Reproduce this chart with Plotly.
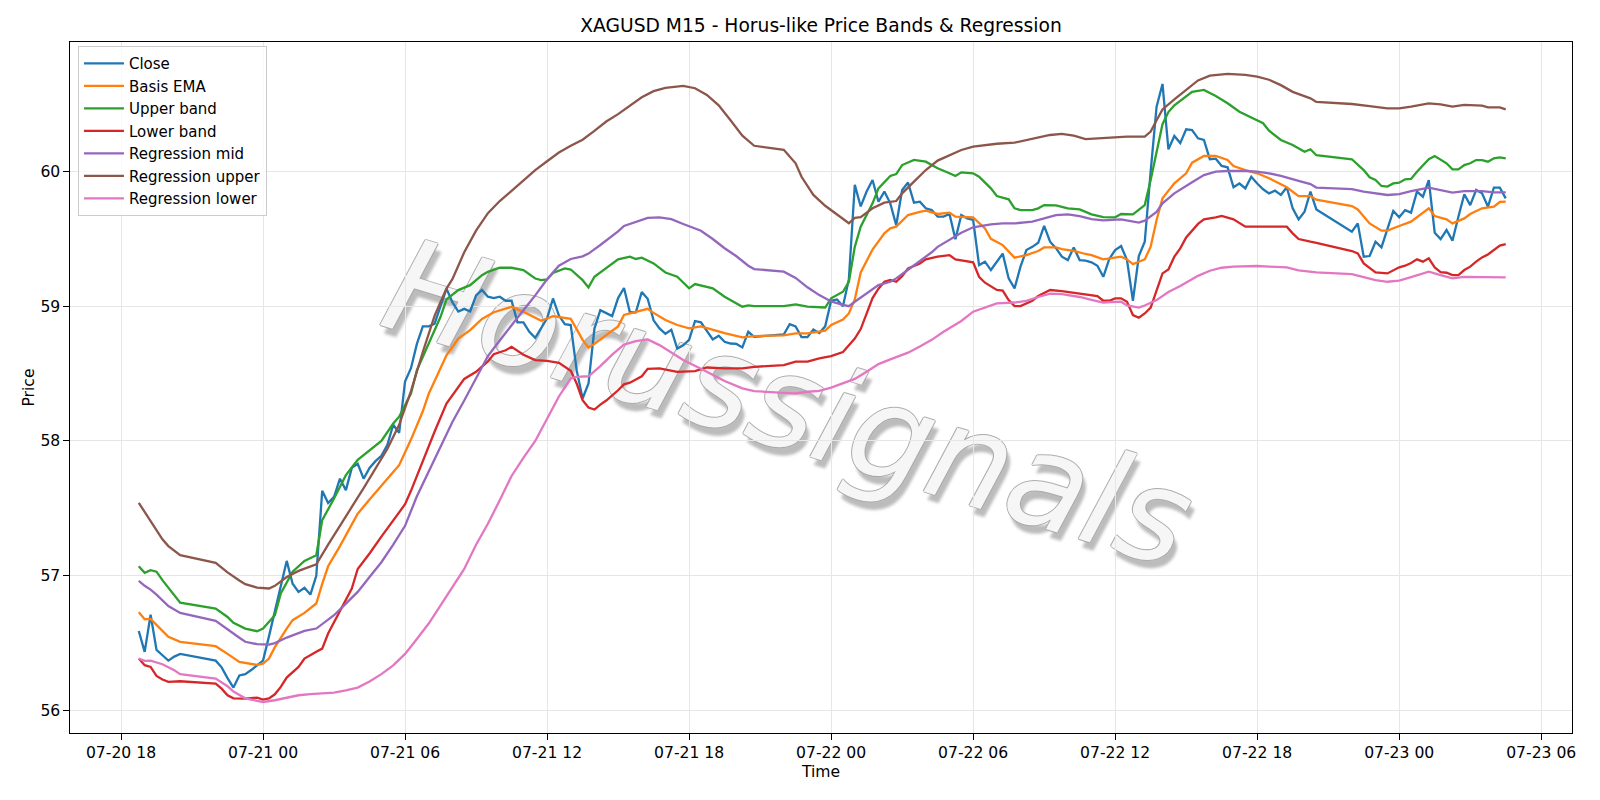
import pandas as pd
import plotly.graph_objects as go

BASE = pd.Timestamp("2025-07-20 18:00")

# ---------------- Close (M15 bars, four trading sessions) ----------------
close_sessions = [
    ("2025-07-20 18:45", "2025-07-20 20:30"),
    ("2025-07-20 22:00", "2025-07-21 20:45"),
    ("2025-07-21 22:00", "2025-07-22 20:30"),
    ("2025-07-22 22:00", "2025-07-23 04:30"),
]
close_s1 = [56.59, 56.435, 56.71, 56.45, 56.41, 56.37, 56.40, 56.42]
close_s2 = [
    56.37, 56.32, 56.24, 56.17, 56.26, 56.27, 56.30, 56.335,
    56.37, 56.55, 56.74, 56.92, 57.11, 56.94, 56.88, 56.91, 56.86, 57.00, 57.63, 57.54, 57.585, 57.72, 57.635, 57.80,
    57.83, 57.72, 57.80, 57.85, 57.89, 57.97, 58.12, 58.06, 58.44, 58.54, 58.72, 58.85, 58.85, 58.87, 59.00, 59.13,
    59.03, 58.96, 58.98, 58.96, 59.08, 59.12, 59.07, 59.06, 59.07, 59.04, 59.04, 58.88, 58.88, 58.81, 58.765, 58.835,
    58.91, 59.057, 58.93, 58.866, 58.86, 58.525, 58.315, 58.426, 58.834, 58.97, 58.946, 58.926, 59.06, 59.135, 58.955, 58.955,
    59.105, 59.055, 58.895, 58.835, 58.795, 58.825, 58.685, 58.71, 58.75, 58.89, 58.88, 58.82, 58.753, 58.78, 58.736, 58.723,
    58.72, 58.694, 58.81, 58.773,
]
close_s3 = [
    58.79, 58.867, 58.85, 58.77, 58.77, 58.827, 58.80, 58.85,
    59.04, 59.05, 59.00, 59.20, 59.90, 59.74, 59.85, 59.936, 59.775, 59.85, 59.763, 59.60, 59.862, 59.917, 59.768, 59.775,
    59.726, 59.713, 59.664, 59.664, 59.684, 59.496, 59.676, 59.651, 59.64, 59.305, 59.33, 59.268, 59.33, 59.39, 59.206, 59.132,
    59.293, 59.416, 59.44, 59.47, 59.595, 59.478, 59.43, 59.367, 59.342, 59.436, 59.342, 59.338, 59.325, 59.30, 59.218, 59.35,
    59.416, 59.446, 59.342, 59.04, 59.372, 59.478, 60.00, 60.48, 60.649, 60.164, 60.263, 60.21, 60.312, 60.307, 60.245, 60.233,
    60.09, 60.094, 60.04, 60.03, 59.882, 59.91, 59.874, 59.96, 59.91, 59.867, 59.837, 59.857, 59.825, 59.882, 59.726, 59.644,
    59.70, 59.85, 59.718,
]
close_s4 = [
    59.553, 59.614, 59.367, 59.372, 59.478, 59.436, 59.565, 59.706,
    59.66, 59.713, 59.694, 59.85, 59.812, 59.936, 59.545, 59.498, 59.565, 59.486, 59.664, 59.83, 59.75, 59.862, 59.837, 59.738,
    59.879, 59.879, 59.80,
]

# ---------------- Indicator lines: (hours after 07-20 18:00, price) ----------------
basis_ema = [
    (0.75, 56.73), (1.0, 56.677), (1.25, 56.68), (2.0, 56.546), (2.5, 56.509), (4.0, 56.477), (4.5, 56.42),
    (5.0, 56.36), (5.75, 56.338), (6.0, 56.348), (6.25, 56.385), (6.5, 56.47), (7.0, 56.608), (7.25, 56.67),
    (7.75, 56.724), (8.25, 56.794), (8.5, 56.94), (8.75, 57.07), (9.25, 57.22), (10.0, 57.46), (10.5, 57.565),
    (11.0, 57.671), (11.5, 57.77), (11.75, 57.82), (12.25, 58.01), (12.75, 58.22), (13.0, 58.35), (13.75, 58.636),
    (14.25, 58.76), (14.75, 58.822), (15.25, 58.905), (15.75, 58.955), (16.5, 58.995), (17.0, 58.958), (17.5, 58.915),
    (17.75, 58.891), (18.25, 58.926), (18.5, 58.92), (19.0, 58.906), (19.25, 58.83), (19.5, 58.75), (19.75, 58.693),
    (20.0, 58.72), (20.5, 58.785), (21.0, 58.85), (21.25, 58.935), (21.75, 58.96), (22.25, 58.98), (22.5, 58.95),
    (23.0, 58.897), (23.5, 58.86), (24.0, 58.835), (24.5, 58.85), (25.0, 58.823), (25.5, 58.80), (26.25, 58.768),
    (26.75, 58.778), (28.0, 58.783), (28.5, 58.798), (29.0, 58.798), (29.5, 58.808), (29.75, 58.818), (30.0, 58.86),
    (30.5, 58.90), (30.75, 58.946), (31.0, 59.05), (31.25, 59.25), (31.75, 59.42), (32.25, 59.54), (32.5, 59.577),
    (32.75, 59.59), (33.25, 59.676), (33.75, 59.70), (34.0, 59.708), (34.5, 59.684), (35.0, 59.694), (35.25, 59.664),
    (35.75, 59.664), (36.0, 59.659), (36.5, 59.577), (36.75, 59.50), (37.25, 59.453), (37.5, 59.404), (37.75, 59.36),
    (38.25, 59.379), (38.75, 59.409), (39.0, 59.436), (39.5, 59.436), (39.75, 59.424), (40.25, 59.411), (40.75, 59.387),
    (41.0, 59.379), (41.5, 59.347), (42.0, 59.362), (42.25, 59.367), (42.5, 59.347), (42.75, 59.312), (43.0, 59.33),
    (43.25, 59.347), (43.5, 59.441), (43.75, 59.64), (44.0, 59.80), (44.5, 59.911), (45.0, 59.986), (45.25, 60.065),
    (45.75, 60.114), (46.25, 60.114), (46.75, 60.085), (47.0, 60.04), (47.5, 60.01), (48.0, 59.986), (48.5, 59.949),
    (49.0, 59.906), (49.25, 59.882), (49.75, 59.817), (50.25, 59.817), (50.5, 59.79), (52.0, 59.743), (52.25, 59.718),
    (52.75, 59.614), (53.25, 59.56), (53.5, 59.56), (54.0, 59.595), (54.5, 59.627), (54.75, 59.66), (55.25, 59.726),
    (55.5, 59.669), (56.0, 59.644), (56.25, 59.614), (56.75, 59.651), (57.0, 59.684), (57.5, 59.726), (58.0, 59.738),
    (58.25, 59.773), (58.5, 59.775),
]
upper_band = [
    (0.75, 57.07), (1.0, 57.021), (1.25, 57.041), (1.5, 57.03), (1.75, 56.967), (2.25, 56.855), (2.5, 56.80),
    (4.0, 56.756), (4.5, 56.694), (4.75, 56.65), (5.25, 56.608), (5.75, 56.588), (6.0, 56.608), (6.5, 56.707),
    (6.75, 56.868), (7.25, 57.03), (7.75, 57.11), (8.25, 57.152), (8.5, 57.412), (9.0, 57.573), (9.5, 57.746),
    (10.0, 57.86), (10.5, 57.93), (11.0, 58.0), (11.5, 58.129), (11.75, 58.18), (12.25, 58.352), (12.5, 58.525),
    (13.0, 58.723), (13.5, 58.921), (13.75, 59.05), (14.25, 59.119), (14.75, 59.156), (15.25, 59.23), (15.5, 59.255),
    (16.0, 59.285), (16.5, 59.285), (17.0, 59.267), (17.5, 59.205), (17.75, 59.193), (18.0, 59.198), (18.25, 59.247),
    (18.75, 59.28), (19.0, 59.272), (19.5, 59.193), (19.75, 59.139), (20.0, 59.218), (20.5, 59.28), (21.0, 59.347),
    (21.5, 59.367), (21.75, 59.35), (22.0, 59.36), (22.5, 59.317), (23.0, 59.25), (23.5, 59.218), (24.0, 59.132),
    (24.25, 59.164), (25.0, 59.132), (25.5, 59.07), (26.25, 58.996), (26.5, 59.006), (26.75, 59.0), (28.0, 59.0),
    (28.5, 59.013), (29.0, 58.996), (29.75, 58.99), (30.0, 59.058), (30.5, 59.107), (30.75, 59.181), (31.0, 59.44),
    (31.25, 59.59), (31.75, 59.763), (32.0, 59.874), (32.5, 59.966), (32.75, 59.98), (33.0, 60.047), (33.5, 60.085),
    (34.0, 60.072), (34.5, 60.023), (35.0, 59.986), (35.25, 59.966), (35.5, 59.993), (36.0, 59.986), (36.25, 59.96),
    (36.75, 59.874), (37.0, 59.817), (37.5, 59.793), (37.75, 59.726), (38.0, 59.713), (38.5, 59.713), (38.75, 59.726),
    (39.0, 59.75), (39.5, 59.748), (40.0, 59.726), (40.5, 59.718), (41.0, 59.681), (41.5, 59.66), (42.0, 59.659),
    (42.25, 59.684), (42.75, 59.681), (43.0, 59.718), (43.25, 59.75), (43.5, 59.936), (43.75, 60.15), (44.0, 60.35),
    (44.25, 60.44), (44.5, 60.49), (45.25, 60.59), (45.75, 60.604), (46.25, 60.56), (46.75, 60.505), (47.25, 60.443),
    (47.75, 60.401), (48.25, 60.357), (48.5, 60.302), (49.0, 60.233), (49.5, 60.196), (50.0, 60.146), (50.25, 60.164),
    (50.5, 60.12), (52.0, 60.09), (52.5, 60.01), (52.75, 59.956), (53.0, 59.936), (53.25, 59.892), (53.5, 59.887),
    (53.75, 59.911), (54.0, 59.916), (54.25, 59.941), (54.5, 59.944), (54.75, 59.998), (55.25, 60.09), (55.5, 60.114),
    (56.0, 60.06), (56.25, 60.015), (56.5, 60.015), (56.75, 60.047), (57.0, 60.06), (57.25, 60.084), (57.5, 60.084),
    (57.75, 60.072), (58.0, 60.097), (58.25, 60.104), (58.5, 60.097),
]
lower_band = [
    (0.75, 56.385), (1.0, 56.336), (1.25, 56.323), (1.5, 56.256), (1.75, 56.23), (2.0, 56.212), (2.5, 56.217),
    (4.0, 56.20), (4.25, 56.162), (4.5, 56.113), (4.75, 56.09), (5.25, 56.088), (5.75, 56.096), (6.0, 56.081),
    (6.25, 56.09), (6.5, 56.12), (6.75, 56.175), (7.0, 56.244), (7.5, 56.323), (7.75, 56.385), (8.25, 56.435),
    (8.5, 56.459), (8.75, 56.571), (9.25, 56.744), (9.75, 56.905), (10.0, 57.05), (10.5, 57.165), (11.0, 57.29),
    (11.5, 57.411), (12.0, 57.53), (12.25, 57.63), (12.75, 57.857), (13.25, 58.07), (13.75, 58.278), (14.25, 58.40),
    (14.5, 58.46), (15.0, 58.513), (15.5, 58.59), (15.75, 58.644), (16.25, 58.673), (16.5, 58.698), (16.75, 58.67),
    (17.0, 58.64), (17.5, 58.60), (18.0, 58.594), (18.5, 58.58), (18.75, 58.55), (19.0, 58.52), (19.25, 58.426),
    (19.5, 58.302), (19.75, 58.248), (20.0, 58.233), (20.25, 58.27), (20.5, 58.30), (21.0, 58.376), (21.25, 58.42),
    (21.5, 58.432), (22.0, 58.48), (22.25, 58.535), (22.75, 58.538), (23.5, 58.513), (24.25, 58.518), (24.75, 58.545),
    (25.5, 58.538), (26.25, 58.538), (26.75, 58.55), (28.0, 58.563), (28.5, 58.588), (29.0, 58.588), (29.5, 58.612),
    (30.0, 58.63), (30.5, 58.66), (30.75, 58.71), (31.0, 58.76), (31.25, 58.83), (31.5, 58.95), (31.75, 59.06),
    (32.0, 59.13), (32.25, 59.181), (32.5, 59.194), (32.75, 59.181), (33.0, 59.223), (33.25, 59.28), (33.75, 59.317),
    (34.0, 59.347), (34.5, 59.367), (35.0, 59.379), (35.25, 59.347), (35.75, 59.33), (36.0, 59.325), (36.25, 59.218),
    (36.5, 59.174), (37.0, 59.12), (37.25, 59.115), (37.5, 59.045), (37.75, 59.0), (38.0, 59.0), (38.25, 59.02),
    (38.5, 59.04), (38.75, 59.075), (39.25, 59.12), (39.75, 59.112), (40.25, 59.10), (40.75, 59.09), (41.25, 59.075),
    (41.5, 59.04), (41.75, 59.04), (42.0, 59.058), (42.25, 59.058), (42.5, 59.033), (42.75, 58.934), (43.0, 58.914),
    (43.25, 58.946), (43.5, 58.99), (43.75, 59.12), (44.0, 59.243), (44.25, 59.273), (44.5, 59.367), (44.75, 59.429),
    (45.0, 59.51), (45.5, 59.61), (45.75, 59.644), (46.25, 59.659), (46.5, 59.669), (47.0, 59.644), (47.25, 59.62),
    (47.5, 59.59), (48.0, 59.59), (48.5, 59.59), (49.25, 59.59), (49.5, 59.54), (49.75, 59.498), (50.25, 59.478),
    (50.5, 59.47), (52.0, 59.409), (52.25, 59.392), (52.5, 59.317), (52.75, 59.28), (53.0, 59.25), (53.5, 59.243),
    (53.75, 59.263), (54.0, 59.288), (54.25, 59.30), (54.5, 59.32), (54.75, 59.347), (55.0, 59.33), (55.25, 59.355),
    (55.5, 59.288), (55.75, 59.253), (56.0, 59.248), (56.25, 59.231), (56.5, 59.231), (56.75, 59.268), (57.0, 59.293),
    (57.25, 59.33), (57.5, 59.362), (57.75, 59.384), (58.0, 59.415), (58.25, 59.45), (58.5, 59.461),
]
regression_mid = [
    (0.75, 56.962), (1.0, 56.925), (1.25, 56.897), (1.5, 56.86), (2.0, 56.775), (2.5, 56.724), (4.0, 56.665),
    (4.5, 56.60), (5.0, 56.54), (5.25, 56.51), (5.75, 56.492), (6.25, 56.489), (6.5, 56.50), (7.0, 56.541),
    (7.5, 56.575), (7.75, 56.59), (8.25, 56.608), (8.5, 56.64), (9.0, 56.707), (9.5, 56.793), (10.0, 56.88),
    (10.5, 56.99), (11.0, 57.10), (11.5, 57.23), (12.0, 57.37), (12.5, 57.59), (13.0, 57.77), (13.5, 57.96),
    (14.0, 58.141), (14.5, 58.30), (15.0, 58.46), (15.5, 58.63), (16.0, 58.745), (16.5, 58.86), (17.0, 58.97),
    (17.5, 59.08), (18.0, 59.20), (18.5, 59.30), (19.0, 59.35), (19.5, 59.37), (19.75, 59.39), (20.25, 59.454),
    (20.75, 59.52), (21.0, 59.555), (21.25, 59.595), (21.75, 59.627), (22.25, 59.655), (22.75, 59.659), (23.25, 59.645),
    (23.75, 59.61), (24.5, 59.56), (25.0, 59.498), (25.5, 59.43), (26.0, 59.37), (26.5, 59.30), (26.75, 59.275),
    (28.0, 59.256), (28.5, 59.21), (29.0, 59.14), (29.5, 59.082), (30.0, 59.035), (30.5, 59.01), (30.75, 59.0),
    (31.0, 59.033), (31.5, 59.095), (32.0, 59.156), (32.5, 59.181), (32.75, 59.206), (33.25, 59.27), (33.75, 59.335),
    (34.25, 59.40), (34.5, 59.44), (35.0, 59.49), (35.5, 59.545), (36.0, 59.585), (36.75, 59.607), (37.25, 59.614),
    (37.75, 59.614), (38.5, 59.627), (39.0, 59.65), (39.5, 59.675), (40.0, 59.681), (40.5, 59.668), (41.0, 59.645),
    (41.5, 59.636), (42.25, 59.644), (42.75, 59.627), (43.0, 59.62), (43.25, 59.634), (43.75, 59.70), (44.0, 59.763),
    (44.5, 59.837), (45.25, 59.92), (45.75, 59.973), (46.25, 59.998), (46.75, 60.003), (47.5, 60.003), (48.0, 59.998),
    (48.5, 59.986), (49.0, 59.966), (49.75, 59.93), (50.25, 59.906), (50.5, 59.88), (52.0, 59.869), (52.5, 59.85),
    (53.0, 59.838), (53.5, 59.825), (54.0, 59.832), (54.5, 59.854), (55.25, 59.879), (55.75, 59.862), (56.25, 59.842),
    (56.75, 59.854), (57.5, 59.854), (58.0, 59.845), (58.5, 59.845),
]
regression_upper = [
    (0.75, 57.541), (1.25, 57.41), (1.75, 57.27), (2.0, 57.22), (2.5, 57.152), (4.0, 57.095), (4.5, 57.025),
    (5.0, 56.965), (5.25, 56.937), (5.75, 56.912), (6.25, 56.905), (6.5, 56.925), (6.75, 56.96), (7.0, 56.99),
    (7.5, 57.036), (8.0, 57.066), (8.25, 57.085), (8.75, 57.23), (9.25, 57.365), (9.75, 57.51), (10.25, 57.65),
    (10.75, 57.79), (11.25, 57.94), (11.75, 58.12), (12.25, 58.37), (12.75, 58.66), (13.25, 58.93), (13.75, 59.13),
    (14.0, 59.2), (14.5, 59.40), (15.0, 59.56), (15.5, 59.69), (16.0, 59.78), (16.5, 59.855), (17.0, 59.93),
    (17.5, 60.01), (18.0, 60.075), (18.5, 60.14), (19.0, 60.19), (19.5, 60.235), (20.0, 60.30), (20.5, 60.37),
    (21.0, 60.425), (21.5, 60.49), (22.0, 60.55), (22.5, 60.595), (23.0, 60.62), (23.75, 60.634), (24.25, 60.617),
    (24.75, 60.567), (25.25, 60.49), (25.75, 60.38), (26.25, 60.265), (26.75, 60.19), (28.0, 60.16), (28.5, 60.06),
    (28.75, 59.96), (29.25, 59.825), (29.75, 59.745), (30.25, 59.68), (30.75, 59.615), (31.0, 59.655), (31.25, 59.66),
    (31.75, 59.726), (32.25, 59.768), (32.75, 59.78), (33.0, 59.837), (33.5, 59.924), (34.0, 60.01), (34.5, 60.08),
    (35.0, 60.12), (35.5, 60.159), (36.0, 60.184), (36.5, 60.196), (37.0, 60.205), (37.75, 60.213), (38.25, 60.233),
    (38.75, 60.253), (39.25, 60.27), (39.75, 60.278), (40.25, 60.265), (40.75, 60.24), (41.25, 60.245), (42.0, 60.25),
    (42.5, 60.258), (43.25, 60.258), (43.5, 60.295), (43.75, 60.38), (44.0, 60.46), (44.5, 60.535), (45.0, 60.605),
    (45.5, 60.675), (46.0, 60.71), (46.75, 60.723), (47.5, 60.716), (48.0, 60.703), (48.5, 60.68), (49.0, 60.64),
    (49.5, 60.59), (50.25, 60.542), (50.5, 60.515), (52.0, 60.50), (52.75, 60.485), (53.5, 60.468), (54.0, 60.468),
    (54.5, 60.48), (55.25, 60.505), (55.75, 60.498), (56.25, 60.48), (56.75, 60.493), (57.5, 60.488), (57.75, 60.475),
    (58.25, 60.475), (58.5, 60.46),
]
regression_lower = [
    (0.75, 56.385), (1.0, 56.368), (1.25, 56.37), (1.75, 56.343), (2.25, 56.298), (2.5, 56.27), (4.0, 56.237),
    (4.5, 56.18), (4.75, 56.14), (5.25, 56.09), (5.75, 56.071), (6.0, 56.063), (6.5, 56.076), (7.0, 56.093),
    (7.5, 56.113), (8.0, 56.122), (8.5, 56.125), (9.0, 56.133), (9.5, 56.15), (10.0, 56.17), (10.5, 56.215),
    (11.0, 56.27), (11.5, 56.335), (12.0, 56.42), (12.5, 56.53), (13.0, 56.645), (13.5, 56.78), (14.0, 56.91),
    (14.5, 57.05), (15.0, 57.23), (15.5, 57.385), (16.0, 57.56), (16.5, 57.74), (17.0, 57.875), (17.5, 58.0),
    (18.0, 58.165), (18.5, 58.33), (19.0, 58.465), (19.25, 58.475), (19.75, 58.48), (20.25, 58.555), (20.75, 58.64),
    (21.25, 58.715), (21.75, 58.741), (22.25, 58.753), (22.75, 58.711), (23.25, 58.655), (23.75, 58.60), (24.5, 58.535),
    (25.0, 58.488), (25.5, 58.445), (26.25, 58.39), (26.75, 58.37), (28.0, 58.357), (28.5, 58.352), (29.0, 58.365),
    (29.5, 58.372), (30.0, 58.395), (30.5, 58.425), (31.0, 58.46), (31.5, 58.513), (32.0, 58.57), (32.5, 58.605),
    (33.25, 58.655), (33.75, 58.70), (34.25, 58.75), (34.75, 58.81), (35.5, 58.89), (36.0, 58.959), (36.5, 58.99),
    (37.0, 59.02), (37.75, 59.027), (38.25, 59.04), (38.75, 59.068), (39.25, 59.093), (39.75, 59.09), (40.5, 59.068),
    (41.0, 59.047), (41.5, 59.027), (42.25, 59.033), (42.5, 59.005), (43.0, 58.99), (43.25, 59.005), (43.75, 59.045),
    (44.25, 59.105), (44.75, 59.15), (45.5, 59.225), (46.0, 59.263), (46.5, 59.285), (47.0, 59.293), (48.0, 59.298),
    (48.5, 59.293), (49.25, 59.288), (49.75, 59.265), (50.25, 59.257), (50.5, 59.25), (52.0, 59.238), (52.5, 59.218),
    (53.0, 59.194), (53.5, 59.181), (54.0, 59.189), (54.5, 59.215), (55.25, 59.256), (55.75, 59.231), (56.25, 59.206),
    (56.75, 59.218), (57.5, 59.218), (58.0, 59.213), (58.5, 59.213),
]

series_names = ["Close", "Basis EMA", "Upper band", "Lower band",
                "Regression mid", "Regression upper", "Regression lower"]
series_colors = ["#1f77b4", "#ff7f0e", "#2ca02c", "#d62728", "#9467bd", "#8c564b", "#e377c2"]

title_text = "XAGUSD M15 - Horus-like Price Bands & Regression"
watermark_text = "Horussignals"

# ---------------- build ----------------
close_values = [close_s1, close_s2, close_s3, close_s4]
close_t, close_y = [], []
for (start, end), vals in zip(close_sessions, close_values):
    idx = pd.date_range(start, end, freq="15min")
    assert len(idx) == len(vals), (start, len(idx), len(vals))
    close_t.extend(idx)
    close_y.extend(vals)


def to_xy(pairs):
    hours = [h for h, _ in pairs]
    vals = [v for _, v in pairs]
    return BASE + pd.to_timedelta(hours, unit="h"), vals


fig = go.Figure()
LW = 2.3
fig.add_trace(go.Scatter(x=close_t, y=close_y, mode="lines", name=series_names[0],
                         line=dict(color=series_colors[0], width=LW)))
for name, color, pairs in zip(series_names[1:], series_colors[1:],
                              [basis_ema, upper_band, lower_band, regression_mid,
                               regression_upper, regression_lower]):
    x, y = to_xy(pairs)
    fig.add_trace(go.Scatter(x=x, y=y, mode="lines", name=name,
                             line=dict(color=color, width=LW)))

x_start = BASE + pd.to_timedelta(-2.155, unit="h")
x_end = BASE + pd.to_timedelta(61.3, unit="h")

axis_common = dict(
    showline=True, linecolor="black", linewidth=1.25, mirror=True,
    ticks="outside", ticklen=5.5, tickwidth=1.25, tickcolor="black",
    showgrid=True, gridcolor="#e6e6e6", gridwidth=1.2, zeroline=False,
    tickfont=dict(size=15.6, color="black", family="DejaVu Sans"),
)

fig.update_layout(
    width=1600, height=800,
    margin=dict(l=70.4, r=27.5, t=42, b=67.3),
    paper_bgcolor="white", plot_bgcolor="white",
    font=dict(family="DejaVu Sans", size=15.6, color="black"),
    title=dict(text=title_text, x=0.5, xref="paper", xanchor="center",
               y=1 - 25.5 / 800, yref="container", yanchor="middle",
               font=dict(size=18.7, color="black", family="DejaVu Sans")),
    xaxis=dict(type="date", range=[x_start, x_end], tick0=BASE, dtick=6 * 3600 * 1000,
               tickformat="%m-%d %H",
               title=dict(text="Time", standoff=4, font=dict(size=15.6)),
               **axis_common),
    yaxis=dict(range=[55.833, 60.96], tick0=56, dtick=1,
               title=dict(text="Price", standoff=1, font=dict(size=15.6)),
               **axis_common),
    legend=dict(x=0.0053, y=0.994, xanchor="left", yanchor="top",
                bgcolor="rgba(255,255,255,0.8)", bordercolor="#cccccc", borderwidth=1,
                font=dict(size=15, family="DejaVu Sans", color="black"),
                tracegroupgap=0, itemwidth=40),
    showlegend=True,
)

# Watermark: drawn beneath the data lines (shape label on an invisible line)
wm_shadow = ("1px 0px 0px #a6a6a6, -1px 0px 0px #a6a6a6, 0px 1px 0px #a6a6a6, "
             "0px -1px 0px #a6a6a6, 6px 7px 3px rgba(120,120,120,0.55)")
cx, cy, half_w = 0.48, 0.49, 0.133
half_h = half_w * 1502 / 690.7 * 0.306   # ~17 degrees on screen
try:
    fig.add_shape(
        type="line", xref="paper", yref="paper", layer="below",
        x0=cx - half_w, y0=cy + half_h, x1=cx + half_w, y1=cy - half_h,
        line=dict(width=0, color="rgba(0,0,0,0)"),
        label=dict(text=watermark_text, textposition="middle", yanchor="middle",
                   font=dict(size=130, family="DejaVu Sans", style="italic",
                             color="rgba(255,255,255,0.9)", shadow=wm_shadow)),
    )
except ValueError:
    fig.add_annotation(
        text=watermark_text, xref="paper", yref="paper", x=cx, y=cy,
        showarrow=False, textangle=17,
        font=dict(size=130, family="DejaVu Sans", style="italic",
                  color="rgba(255,255,255,0.35)", shadow=wm_shadow),
    )

fig.write_html("out.html")
